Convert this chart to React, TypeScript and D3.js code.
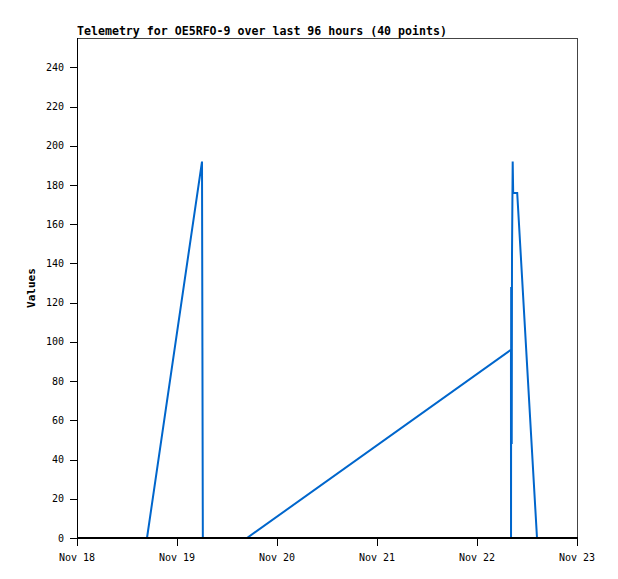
import React from 'react';
import * as d3 from 'd3';

// telemetry samples (timestamp, value)
const times = [
  '2024-11-18T16:48', '2024-11-19T06:00', '2024-11-19T06:06', '2024-11-19T06:12',
  '2024-11-19T08:30', '2024-11-19T11:00', '2024-11-19T14:00', '2024-11-19T16:48',
  '2024-11-22T08:09', '2024-11-22T08:10', '2024-11-22T08:12', '2024-11-22T08:20',
  '2024-11-22T08:24', '2024-11-22T08:34', '2024-11-22T08:41', '2024-11-22T09:39',
  '2024-11-22T14:24',
];
const values = [0, 192, 97, 0, 0, 0, 0, 0, 96, 0, 128, 48, 144, 192, 176, 176, 0];

const yTicks = [0, 20, 40, 60, 80, 100, 120, 140, 160, 180, 200, 220, 240];
const xTickDays = ['2024-11-18', '2024-11-19', '2024-11-20', '2024-11-21', '2024-11-22', '2024-11-23'];
const xTickLabels = ['Nov 18', 'Nov 19', 'Nov 20', 'Nov 21', 'Nov 22', 'Nov 23'];

const title = 'Telemetry for OE5RFO-9 over last 96 hours (40 points)';

const W = 618;
const H = 579;
const left = 77, right = 577, top = 38, bottom = 538;

export default function App() {
  const x = d3.scaleTime()
    .domain([new Date('2024-11-18T00:00'), new Date('2024-11-23T00:00')])
    .range([left, right]);
  const y = d3.scaleLinear().domain([0, 255]).range([bottom, top]);

  const pts = times.map((t, i) => ({ t: new Date(t), v: values[i] }));
  const line = d3.line<{ t: Date; v: number }>()
    .x(d => x(d.t))
    .y(d => y(d.v));

  const mono = '"DejaVu Sans Mono", monospace';

  return (
    <svg width={W} height={H} style={{ position: 'absolute', left: 0, top: 0, background: '#fff' }}>
      <rect x={0} y={0} width={W} height={H} fill="#fff" />
      <text x={left} y={35} fontFamily={mono} fontWeight="bold" fontSize={11.6} fill="#000">{title}</text>

      {/* frame */}
      <rect x={left + 0.5} y={top + 0.5} width={right - left} height={bottom - top} fill="none" stroke="#444" strokeWidth={1} shapeRendering="crispEdges" />

      {/* data line */}
      <path d={line(pts) || ''} fill="none" stroke="#0066cc" strokeWidth={2} strokeLinejoin="miter" />

      {/* y axis */}
      <line x1={left + 0.5} x2={left + 0.5} y1={top} y2={bottom} stroke="#000" shapeRendering="crispEdges" />
      {yTicks.map(v => (
        <g key={v}>
          <line x1={left - 7} x2={left} y1={Math.round(y(v)) + 0.5} y2={Math.round(y(v)) + 0.5} stroke="#000" shapeRendering="crispEdges" />
          <text x={64} y={y(v)} dy="0.35em" textAnchor="end" fontFamily={mono} fontSize={10} fill="#000">{v}</text>
        </g>
      ))}
      <text transform={`translate(35,${(top + bottom) / 2}) rotate(-90)`} textAnchor="middle" fontFamily={mono} fontWeight="bold" fontSize={11} fill="#000">Values</text>

      {/* x axis */}
      <line x1={left} x2={right + 1} y1={bottom} y2={bottom} stroke="#000" strokeWidth={2} shapeRendering="crispEdges" />
      {xTickDays.map((d, i) => {
        const px = Math.round(x(new Date(d + 'T00:00')));
        return (
          <g key={d}>
            <line x1={px + 0.5} x2={px + 0.5} y1={bottom} y2={bottom + 8} stroke="#000" shapeRendering="crispEdges" />
            <text x={px} y={557} dy="0.35em" textAnchor="middle" fontFamily={mono} fontSize={10} fill="#000">{xTickLabels[i]}</text>
          </g>
        );
      })}
    </svg>
  );
}
